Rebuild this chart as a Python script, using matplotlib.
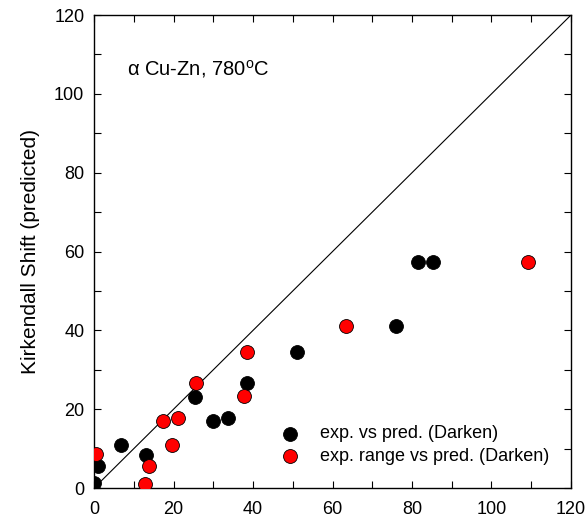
import numpy as np
import matplotlib; matplotlib.use("Agg")
import matplotlib.pyplot as plt
from matplotlib.ticker import MultipleLocator

plt.rcParams.update({"font.family": ["Liberation Sans", "DejaVu Sans"], "font.size": 13,
                     "mathtext.fontset": "custom", "mathtext.rm": "Liberation Sans",
                     "mathtext.it": "Liberation Sans:italic"})

# exp. vs pred. (Darken)
blk_x = [0.0, 1.1, 6.8, 13.1, 25.3, 30.0, 33.6, 38.4, 51.0, 75.9, 81.4, 85.4]
blk_y = [1.2, 5.6, 10.9, 8.5, 23.2, 17.0, 17.7, 26.7, 34.6, 41.1, 57.4, 57.4]
# exp. range vs pred. (Darken)
red_x = [0.4, 12.8, 13.8, 17.4, 19.5, 21.0, 25.7, 37.8, 38.6, 63.4, 109.1]
red_y = [8.6, 1.1, 5.5, 17.0, 10.9, 17.7, 26.7, 23.3, 34.6, 41.1, 57.4]

fig = plt.figure(figsize=(5.88, 5.2), dpi=100)
ax = fig.add_axes([0.160, 0.0615, 0.811, 0.9095])
ax.plot([0, 120], [0, 120], color="black", lw=0.8, zorder=1)
ax.scatter(blk_x, blk_y, s=100, c="black", edgecolors="black", linewidths=0.6, zorder=3,
           label="exp. vs pred. (Darken)")
ax.scatter(red_x, red_y, s=100, c="#ff0000", edgecolors="black", linewidths=0.6, zorder=3,
           label="exp. range vs pred. (Darken)")

ax.set_xlim(0, 120); ax.set_ylim(0, 120)
for a in (ax.xaxis, ax.yaxis):
    a.set_major_locator(MultipleLocator(20))
    a.set_minor_locator(MultipleLocator(10))
ax.tick_params(which="both", direction="in", top=True, right=True, length=5, width=0.8, labelsize=13)
ax.tick_params(axis="x", pad=9)
ax.tick_params(axis="y", pad=7)
for s in ax.spines.values():
    s.set_linewidth(1.0)
fig.text(31/588, 0.517, "Kirkendall Shift (predicted)", rotation=90, ha="center", va="center",
         fontsize=15)
ax.text(0.069, 0.873, r"α Cu-Zn, 780$^{\rm o}$C", transform=ax.transAxes, fontsize=14.5,
        va="baseline")
ax.legend(loc="center left", bbox_to_anchor=(0.3826, 0.091), frameon=False, borderpad=0,
          borderaxespad=0, handlelength=1.5, handletextpad=0.91, labelspacing=0.3, fontsize=13)

fig.savefig("out.png", dpi=100)
